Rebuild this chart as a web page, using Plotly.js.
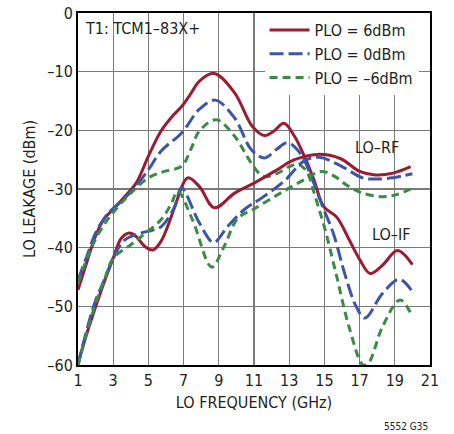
<!DOCTYPE html>
<html>
<head>
<meta charset="utf-8">
<script src="https://cdn.plot.ly/plotly-3.0.1.min.js"></script>
<style>html,body{margin:0;padding:0;background:#fff;}#chart{width:454px;height:434px;}</style>
</head>
<body>
<div id="chart"></div>
<script>
// LO-IF family (upper-starting curves)
var ifRedX   = [1, 1.5, 2, 2.5, 3, 3.65, 4.3, 5, 5.7, 6.3, 6.9, 7.4, 7.9, 8.75, 9.9, 10.9, 11.6, 12.1, 12.7, 13.3, 13.86, 14.4, 14.96, 15.7, 16.4, 17, 17.6, 18.3, 19.15, 20];
var ifRedY   = [-47.2, -42.5, -38, -35, -33.5, -31.3, -29, -24.4, -20.2, -17.8, -15.9, -13.8, -11.6, -10.3, -13.6, -19.3, -20.9, -20.2, -18.8, -21, -24.4, -28.4, -33, -34.8, -38.6, -42, -44.4, -43, -40.5, -42.9];
var ifBlueX  = [1, 1.5, 2, 2.5, 3, 4, 5, 5.7, 6.9, 7.9, 8.8, 9.9, 10.85, 11.6, 12.3, 12.9, 13.67, 14.24, 14.9, 15.5, 16.2, 16.8, 17.3, 18.3, 19.25, 20];
var ifBlueY  = [-45.5, -41.5, -37.5, -35, -33.3, -30.5, -26.7, -23.6, -20.4, -16.4, -14.85, -17.9, -23.3, -24.7, -23.2, -22.1, -24.1, -27.8, -33, -37.5, -44.9, -50, -52, -47.8, -45.4, -47.5];
var ifGreenX = [1, 1.5, 2, 2.5, 3, 4, 5, 5.9, 6.9, 7.4, 7.9, 8.85, 9.9, 10.85, 11.5, 12.2, 13.0, 13.5, 14.0, 14.3, 14.6, 15.0, 15.66, 16.4, 17.2, 17.5, 18.3, 19.3, 20];
var ifGreenY = [-46, -42, -38.5, -36, -34, -30.7, -28.1, -27, -26.1, -23.3, -20.1, -18.2, -21, -25.6, -27.8, -27.5, -26.2, -25.8, -27, -29.5, -32.5, -36.5, -44.4, -53.5, -60, -59.7, -53.5, -48.9, -51.8];
// LO-RF family (lower-starting curves)
var rfRedX   = [1, 1.57, 2.33, 3, 3.46, 3.93, 4.3, 4.8, 5.25, 5.7, 6.3, 6.5, 7.24, 7.9, 8.75, 9.9, 11, 12.16, 13.3, 14.6, 15.9, 17, 17.9, 18.9, 19.9];
var rfRedY   = [-59.7, -54, -47.2, -41.8, -38.4, -37.5, -38.1, -39.8, -40.4, -39, -34.7, -33, -28.1, -29.6, -33.2, -30.7, -29, -27, -25, -24.1, -24.8, -27, -27.6, -27.3, -26.2];
var rfBlueX  = [1, 1.5, 2, 2.5, 3, 3.65, 4.6, 5.25, 5.73, 6.5, 6.87, 7.9, 8.7, 9.5, 10.45, 11.4, 12.7, 13.86, 14.7, 15.9, 17.17, 17.9, 18.87, 20];
var rfBlueY  = [-60, -54, -49, -45.5, -41.8, -38.7, -37.5, -37, -36.4, -33, -29.8, -35.8, -39.1, -36.4, -33.5, -31.6, -28.7, -25.2, -24.6, -26, -28.1, -28.3, -28.1, -27.4];
var rfGreenX = [1, 1.5, 2, 2.5, 3, 4, 4.6, 5.73, 6.3, 6.67, 7.5, 8.6, 9.3, 10.08, 11.0, 12.5, 13.86, 14.8, 15.56, 16.3, 17.17, 18.3, 19.06, 19.9];
var rfGreenY = [-60, -54.5, -49.5, -45.5, -41.8, -39.5, -38.1, -35.2, -32.5, -30.4, -35.2, -43.3, -39.8, -35, -33.4, -30.7, -28.4, -27, -27.8, -29.4, -30.7, -31.3, -31, -30];

var seriesNames = ['PLO = 6dBm', 'PLO = 0dBm', 'PLO = –6dBm'];
var xTickVals = [1, 3, 5, 7, 9, 11, 13, 15, 17, 19, 21];
var yTickVals = [0, -10, -20, -30, -40, -50, -60];
var yTickText = ['0', '–10', '–20', '–30', '–40', '–50', '–60'];

var FONT = '"Liberation Sans Narrow", "Arial Narrow", "DejaVu Sans Condensed", sans-serif';
var RED = '#9a1b32', BLUE = '#3b55a8', GREEN = '#3a8a48';

function tr(x, y, color, dash, name, show) {
  return {x: x, y: y, type: 'scatter', mode: 'lines', name: name, showlegend: show,
    line: {color: color, width: 3, dash: dash, shape: 'spline', smoothing: 1}, hoverinfo: 'skip'};
}
var data = [
  tr(ifRedX, ifRedY, RED, 'solid', seriesNames[0], true),
  tr(ifBlueX, ifBlueY, BLUE, '14px,5px', seriesNames[1], true),
  tr(ifGreenX, ifGreenY, GREEN, '8px,5px', seriesNames[2], true),
  tr(rfRedX, rfRedY, RED, 'solid', seriesNames[0], false),
  tr(rfBlueX, rfBlueY, BLUE, '14px,5px', seriesNames[1], false),
  tr(rfGreenX, rfGreenY, GREEN, '8px,5px', seriesNames[2], false)
];

var layout = {
  width: 454, height: 434,
  margin: {l: 78, r: 24, t: 13, b: 69},
  paper_bgcolor: '#fff', plot_bgcolor: '#fff',
  font: {family: FONT, size: 16, color: '#231f20'},
  showlegend: true,
  legend: {x: 0.53, y: 1, xanchor: 'left', yanchor: 'top', bgcolor: '#fff',
    font: {family: FONT, size: 16, color: '#231f20'}, tracegroupgap: 0, itemwidth: 40},
  xaxis: {range: [1, 21], tickvals: xTickVals, showgrid: true, gridcolor: '#7a7a7a', gridwidth: 1.3,
    zeroline: false, showline: true, linecolor: '#000', linewidth: 2, mirror: true, ticks: '',
    tickfont: {family: FONT, size: 16}, fixedrange: true,
    title: {text: 'LO FREQUENCY (GHz)', font: {family: FONT, size: 16}, standoff: 8}},
  yaxis: {range: [-60, 0], tickvals: yTickVals, ticktext: yTickText, showgrid: true, gridcolor: '#7a7a7a', gridwidth: 1.3,
    zeroline: false, showline: true, linecolor: '#000', linewidth: 2, mirror: true, ticks: '',
    tickfont: {family: FONT, size: 16}, fixedrange: true,
    title: {text: 'LO LEAKAGE (dBm)', font: {family: FONT, size: 16}, standoff: 8}},
  shapes: [
    {type: 'rect', xref: 'paper', yref: 'paper', x0: 0.003, x1: 0.36, y0: 0.92, y1: 1, fillcolor: '#fff', line: {width: 0}, layer: 'between'}
  ],
  annotations: [
    {xref: 'paper', yref: 'paper', x: 0.015, y: 0.955, xanchor: 'left', yanchor: 'middle', showarrow: false,
      text: 'T1: TCM1–83X+', font: {family: FONT, size: 16, color: '#231f20'}},
    {x: 18, y: -22.9, showarrow: false, text: 'LO–RF', font: {family: FONT, size: 16, color: '#231f20'}},
    {x: 18.8, y: -37.8, showarrow: false, text: 'LO–IF', font: {family: FONT, size: 16, color: '#231f20'}},
    {xref: 'paper', yref: 'paper', x: 1.0, y: -0.175, xanchor: 'right', yanchor: 'middle', showarrow: false,
      text: '5552 G35', font: {family: FONT, size: 10, color: '#231f20'}}
  ]
};
Plotly.newPlot('chart', data, layout, {staticPlot: true, displayModeBar: false});
</script>
</body>
</html>
